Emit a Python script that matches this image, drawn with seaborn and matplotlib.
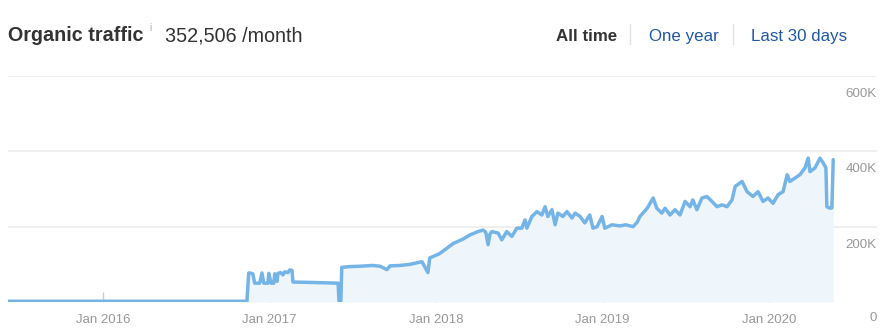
import matplotlib
matplotlib.use("Agg")
import matplotlib.pyplot as plt
import seaborn as sns
import pandas as pd

# ---- data (values in thousands of monthly organic visits) ----
dates = [
    "2015-06-07", "2016-11-12", "2016-11-16", "2016-11-18", "2016-11-25", "2016-11-29",
    "2016-12-10", "2016-12-15", "2016-12-19", "2016-12-28", "2016-12-30", "2017-01-04",
    "2017-01-10", "2017-01-12", "2017-01-17", "2017-01-19", "2017-01-25", "2017-01-30",
    "2017-02-03", "2017-02-10", "2017-02-14", "2017-02-19", "2017-02-21", "2017-03-30",
    "2017-05-31", "2017-06-02", "2017-06-06", "2017-06-08", "2017-06-26", "2017-07-18",
    "2017-08-15", "2017-08-31", "2017-09-15", "2017-09-22", "2017-10-14", "2017-11-05",
    "2017-11-20", "2017-12-01", "2017-12-14", "2017-12-18", "2018-01-08", "2018-01-25",
    "2018-02-07", "2018-03-01", "2018-03-16", "2018-04-03", "2018-04-14", "2018-04-20",
    "2018-04-25", "2018-04-29", "2018-05-03", "2018-05-17", "2018-05-25", "2018-06-05",
    "2018-06-16", "2018-06-27", "2018-07-08", "2018-07-15", "2018-07-19", "2018-07-30",
    "2018-08-10", "2018-08-21", "2018-08-28", "2018-09-03", "2018-09-12", "2018-09-19",
    "2018-09-25", "2018-10-06", "2018-10-15", "2018-10-26", "2018-11-02", "2018-11-13",
    "2018-11-23", "2018-12-04", "2018-12-11", "2018-12-20", "2018-12-31", "2019-01-06",
    "2019-01-22", "2019-02-08", "2019-02-21", "2019-03-09", "2019-03-18", "2019-03-24",
    "2019-04-09", "2019-04-22", "2019-04-30", "2019-05-11", "2019-05-18", "2019-05-29",
    "2019-06-09", "2019-06-20", "2019-07-01", "2019-07-12", "2019-07-18", "2019-07-27",
    "2019-08-07", "2019-08-18", "2019-08-29", "2019-09-09", "2019-09-20", "2019-10-01",
    "2019-10-12", "2019-10-19", "2019-11-03", "2019-11-14", "2019-11-27", "2019-12-08",
    "2019-12-19", "2019-12-30", "2020-01-10", "2020-01-21", "2020-02-01", "2020-02-10",
    "2020-02-16", "2020-02-27", "2020-03-09", "2020-03-20", "2020-03-27", "2020-03-31",
    "2020-04-11", "2020-04-22", "2020-04-29", "2020-05-05", "2020-05-07", "2020-05-14",
    "2020-05-18", "2020-05-21",
]
traffic_k = [
    2, 2, 77, 77, 75, 50,
    50, 77, 50, 50, 76, 50,
    50, 75, 55, 76, 78, 72,
    80, 78, 85, 84, 53, 52,
    50, 3, 3, 92, 94, 95,
    97, 95, 86, 96, 97, 100,
    104, 107, 78, 117, 128, 143,
    155, 167, 178, 187, 191, 185,
    152, 180, 187, 183, 165, 187,
    174, 196, 196, 218, 196, 227,
    240, 231, 253, 227, 245, 205,
    236, 227, 240, 223, 236, 227,
    210, 231, 196, 200, 227, 196,
    205, 202, 205, 200, 212, 227,
    249, 276, 249, 236, 249, 231,
    245, 231, 267, 253, 271, 245,
    276, 280, 267, 253, 258, 253,
    271, 307, 320, 293, 280, 293,
    267, 276, 262, 285, 293, 338,
    320, 329, 338, 356, 382, 346,
    356, 382, 369, 356, 253, 249,
    250, 378,
]
y_ticks = [0, 200, 400, 600]
y_tick_labels = ["0", "200K", "400K", "600K"]
x_tick_dates = ["2016-01-01", "2017-01-01", "2018-01-01", "2019-01-01", "2020-01-01"]
x_tick_labels = ["Jan 2016", "Jan 2017", "Jan 2018", "Jan 2019", "Jan 2020"]
header_title = "Organic traffic"
header_value = "352,506 /month"
ranges = ["All time", "One year", "Last 30 days"]

# ---- figure ----
sns.set_theme(style="white")
plt.rcParams["font.family"] = ["Liberation Sans", "DejaVu Sans"]

W, H = 891, 336
fig = plt.figure(figsize=(W / 100, H / 100), dpi=100)
ax = fig.add_axes([8 / W, (H - 302) / H, (877 - 8) / W, (302 - 76) / H])

df = pd.DataFrame({"date": pd.to_datetime(dates), "traffic": traffic_k})
line_color = "#75b4e7"

x_start = df["date"].iloc[0]
x_end_data = df["date"].iloc[-1]
# right edge of the plotting area (grid lines extend under the y labels)
x_right = pd.Timestamp("2020-08-25")

for v in y_ticks[1:]:
    ax.axhline(v, color="#ececec", lw=1.2, zorder=0)
ax.plot([x_start, x_end_data], [0, 0], color="#dedede", lw=2.2, zorder=1,
        solid_capstyle="butt")

ax.fill_between(df["date"], df["traffic"], 0, color="#eef6fb", lw=0, zorder=1)
sns.lineplot(data=df, x="date", y="traffic", ax=ax, color=line_color,
             lw=2.5, zorder=3)

ax.set_xlim(x_start, x_right)
ax.set_ylim(0, 600)
for s in ax.spines.values():
    s.set_visible(False)

ax.set_xticks(pd.to_datetime(x_tick_dates))
ax.set_xticklabels(x_tick_labels)
ax.tick_params(axis="x", direction="in", length=7, width=1, color="#cccccc",
               labelcolor="#999999", labelsize=9.5, pad=8.5, bottom=True)
ax.set_yticks([])
ax.set_xlabel("")
ax.set_ylabel("")

trans = ax.get_yaxis_transform()
px_per_unit = (302 - 76) / 600
for v, lab in zip(y_ticks, y_tick_labels):
    off = 16.0 if v == 0 else 18.0
    ax.text(0.9995, v - off / px_per_unit, lab, transform=trans, ha="right",
            va="center", fontsize=9.6, color="#999999", clip_on=False)

# ---- header ----
def fx(px):
    return px / W

def fy(py):
    return 1 - py / H

fig.text(fx(8), fy(41), header_title, fontsize=14.2, fontweight="bold",
         color="#333333", va="baseline")
fig.text(fx(149), fy(31), "i", fontsize=7, color="#aaaaaa", va="baseline")
fig.text(fx(165), fy(41), header_value, fontsize=14.2, color="#333333",
         va="baseline")

fig.text(fx(556), fy(41), ranges[0], fontsize=12.2, fontweight="bold",
         color="#333333", va="baseline")
fig.text(fx(649), fy(41), ranges[1], fontsize=12.2, color="#1f58a6",
         va="baseline")
fig.text(fx(751), fy(41), ranges[2], fontsize=12.2, color="#1f58a6",
         va="baseline")
for sx in (630, 733):
    fig.add_artist(plt.Line2D([fx(sx), fx(sx)], [fy(24), fy(44)],
                              color="#e2e2e2", lw=1))

fig.savefig("out.png", dpi=100)
